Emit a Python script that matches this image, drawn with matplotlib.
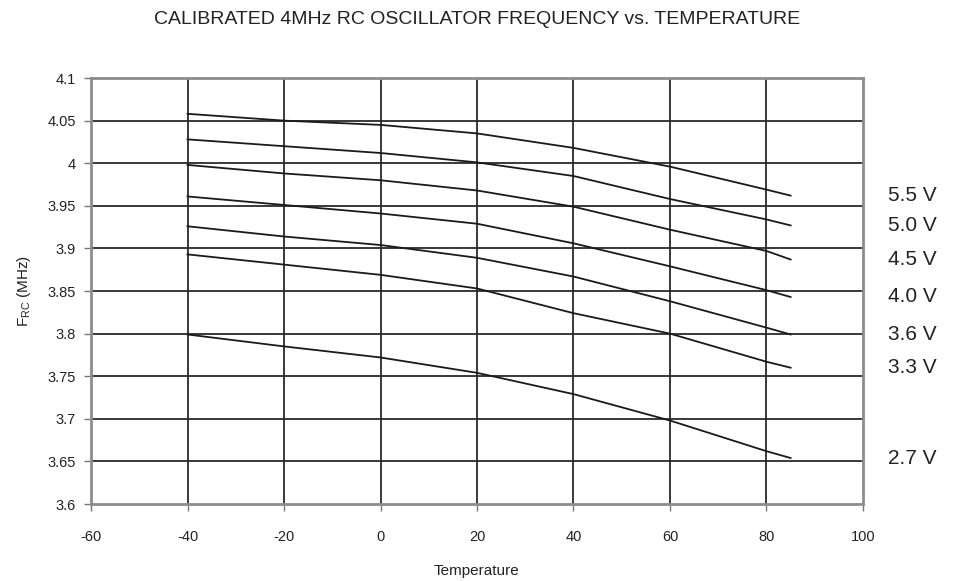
import numpy as np
import matplotlib
matplotlib.use("Agg")
import matplotlib.pyplot as plt

plt.rcParams['font.family'] = ['Liberation Sans', 'DejaVu Sans']
plt.rcParams['mathtext.default'] = 'regular'

# ========== data ==========
temps = [-40, -20, 0, 20, 40, 60, 80, 85]
voltages = ["5.5 V", "5.0 V", "4.5 V", "4.0 V", "3.6 V", "3.3 V", "2.7 V"]
f_55 = [4.058, 4.050, 4.045, 4.035, 4.018, 3.996, 3.969, 3.962]
f_50 = [4.028, 4.020, 4.012, 4.001, 3.985, 3.958, 3.934, 3.927]
f_45 = [3.998, 3.988, 3.980, 3.968, 3.949, 3.922, 3.897, 3.887]
f_40 = [3.961, 3.951, 3.941, 3.929, 3.906, 3.879, 3.851, 3.843]
f_36 = [3.926, 3.914, 3.904, 3.889, 3.867, 3.838, 3.807, 3.799]
f_33 = [3.893, 3.881, 3.869, 3.853, 3.824, 3.800, 3.767, 3.760]
f_27 = [3.799, 3.785, 3.772, 3.754, 3.729, 3.698, 3.662, 3.654]
series = [f_55, f_50, f_45, f_40, f_36, f_33, f_27]

x_ticks = [-60, -40, -20, 0, 20, 40, 60, 80, 100]
y_ticks = [3.6, 3.65, 3.7, 3.75, 3.8, 3.85, 3.9, 3.95, 4.0, 4.05, 4.1]
y_labels = ["3.6", "3.65", "3.7", "3.75", "3.8", "3.85", "3.9", "3.95", "4", "4.05", "4.1"]

fig = plt.figure(figsize=(9.54, 5.81), dpi=100)
ax = fig.add_axes([0.0954, 0.1325, 0.8092, 0.7332])

# grid lines (Excel style, dark)
for yv in y_ticks[1:]:
    ax.axhline(yv, color="#2a2a2a", lw=1.3, zorder=1)
for xv in x_ticks[1:-1]:
    ax.axvline(xv, color="#2a2a2a", lw=1.3, zorder=1)

# curves + voltage labels at the right
for name, vals in zip(voltages, series):
    ax.plot(temps, vals, color="#1a1a1a", lw=1.3, zorder=3)
    ax.text(105.2, vals[-1], name, fontsize=15, va="center", ha="left",
            color="#222222", clip_on=False)

ax.set_xlim(-60, 100)
ax.set_ylim(3.6, 4.1)
ax.set_xticks(x_ticks)
ax.set_xticklabels([str(t) for t in x_ticks])
ax.set_yticks(y_ticks)
ax.set_yticklabels(y_labels)
ax.tick_params(axis="both", direction="out", length=5, width=1, color="#777777",
               labelsize=10.5, labelcolor="#222222", pad=6)
ax.tick_params(axis="x", pad=14)

for sp in ax.spines.values():
    sp.set_color("#8c8c8c")
    sp.set_linewidth(2)

ax.set_xlabel("Temperature", fontsize=11, color="#222222", labelpad=14)
ax.set_ylabel("F$_{RC}$ (MHz)", fontsize=11, color="#222222", labelpad=10)
fig.text(0.5, 1 - 20 / 581, "CALIBRATED 4MHz RC OSCILLATOR FREQUENCY vs. TEMPERATURE",
         ha="center", va="center", fontsize=14, color="#222222")

fig.savefig("out.png", dpi=100)
